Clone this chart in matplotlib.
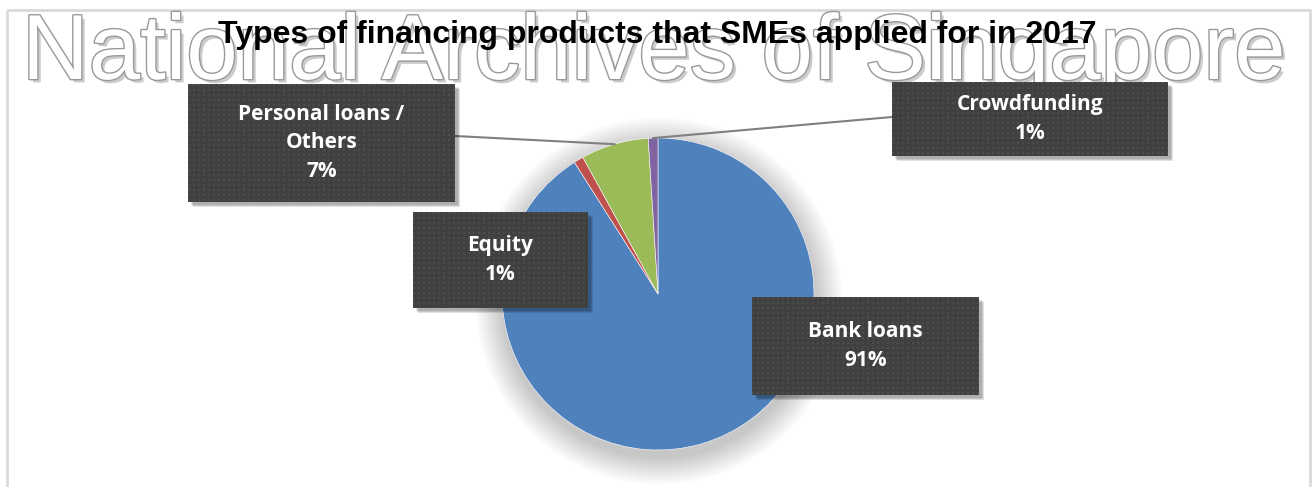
import numpy as np
import matplotlib
matplotlib.use("Agg")
import matplotlib.pyplot as plt
from matplotlib.patches import Rectangle, Circle
import matplotlib.patheffects as pe

# ---- data ----
categories = ["Bank loans", "Equity", "Personal loans /\nOthers", "Crowdfunding"]
shares = [91, 1, 7, 1]
colors = ["#4F81BD", "#C0504D", "#9BBB59", "#8064A2"]
title = "Types of financing products that SMEs applied for in 2017"
watermark = "National Archives of Singapore"

W, H = 1316, 487
DPI = 100
fig = plt.figure(figsize=(W / DPI, H / DPI), dpi=DPI)
fig.patch.set_facecolor("white")

# pie geometry in pixels (top-left origin)
cx, cy, R = 658, 294, 156

# soft shadow behind the pie
ax_bg = fig.add_axes([0, 0, 1, 1])
ax_bg.set_xlim(0, W)
ax_bg.set_ylim(H, 0)
ax_bg.axis("off")
for k in range(28, 0, -1):
    ax_bg.add_patch(Circle((cx + 1, cy + 7), R + k, facecolor="#000000",
                           edgecolor="none", alpha=0.006))

# pie axes
ax_pie = fig.add_axes([(cx - R) / W, (H - cy - R) / H, 2 * R / W, 2 * R / H])
ax_pie.pie(shares, colors=colors, startangle=90, counterclock=False,
           wedgeprops=dict(linewidth=0.4, edgecolor="white"))
ax_pie.set_xlim(-1, 1)
ax_pie.set_ylim(-1, 1)
ax_pie.set_aspect("auto")
ax_pie.axis("off")

# overlay axes for annotations
ax = fig.add_axes([0, 0, 1, 1])
ax.set_xlim(0, W)
ax.set_ylim(H, 0)
ax.axis("off")
ax.patch.set_alpha(0)

# chart border
ax.add_patch(Rectangle((7, 10), 1303, 490, facecolor="none",
                       edgecolor="#d9d9d9", linewidth=2))

renderer = fig.canvas.get_renderer()


def fit_text(x, y, s, width, **kw):
    t = ax.text(x, y, s, fontsize=40, **kw)
    bb = t.get_window_extent(renderer=renderer)
    t.set_fontsize(40 * width / bb.width)
    return t


# watermark
wm = fit_text(22, 79, watermark, 1263, family="Liberation Sans",
              color="white", ha="left", va="baseline", zorder=2)
wm.set_path_effects([
    pe.SimplePatchShadow(offset=(2.5, -2.5), shadow_rgbFace="#000000", alpha=0.2),
    pe.Stroke(linewidth=2.0, foreground="#999999"),
    pe.Normal(),
])

# title
fit_text(218, 43, title, 879, family="Liberation Sans", weight="bold",
         color="black", ha="left", va="baseline", zorder=5)


def texture(w, h):
    img = np.ones((h, w, 3)) * (0x40 / 255)
    yy, xx = np.mgrid[0:h, 0:w]
    dots = ((xx % 5) < 2) & ((yy % 5) < 2)
    img[dots] = 0x4c / 255
    return img


def label_box(x0, y0, x1, y1, text):
    w, h = x1 - x0, y1 - y0
    for k in range(6, 0, -1):
        ax.add_patch(Rectangle((x0 + 2 + k * 0.5, y0 + 2 + k * 0.5), w, h,
                               facecolor="black", edgecolor="none",
                               alpha=0.06, zorder=6))
    ax.imshow(texture(int(w), int(h)), extent=(x0, x1, y1, y0),
              interpolation="nearest", zorder=7, aspect="auto")
    ax.text((x0 + x1) / 2, (y0 + y1) / 2, text, color="white",
            family="Open Sans", weight="bold", fontsize=15, ha="center",
            va="center", linespacing=1.45, zorder=8)


def edge_point(i):
    total = sum(shares)
    start = 90 - 360 * sum(shares[:i]) / total
    mid = start - 180 * shares[i] / total
    a = np.deg2rad(mid)
    return cx + R * np.cos(a), cy - R * np.sin(a)


# leader lines
px, py = edge_point(2)
ax.plot([455, px], [136, py], color="#7f7f7f", lw=1.5, zorder=4)
qx, qy = edge_point(3)
ax.plot([qx, 892], [qy, 117], color="#7f7f7f", lw=1.5, zorder=4)

boxes = [(752, 297, 979, 395), (413, 212, 588, 308),
         (188, 84, 455, 202), (892, 82, 1168, 156)]
for (x0, y0, x1, y1), name, v in zip(boxes, categories, shares):
    label_box(x0, y0, x1, y1, f"{name}\n{v}%")

ax.set_xlim(0, W)
ax.set_ylim(H, 0)
fig.savefig("out.png", dpi=DPI)
